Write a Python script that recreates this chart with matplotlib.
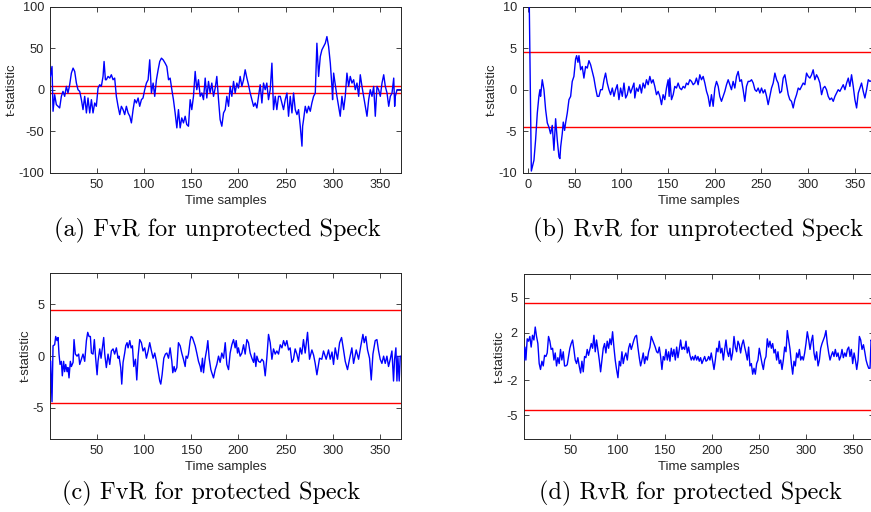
import matplotlib
matplotlib.use("Agg")
import matplotlib.pyplot as plt

plt.rcParams['axes.unicode_minus'] = False
plt.rcParams['font.family'] = ['Liberation Sans', 'DejaVu Sans']

# ---------------- data ----------------
a_pts = [(1,16),(2.7,28),(3.8,-26),(5.5,-6),(7.3,-18),(9,-20),(10.8,-22),(12.6,-8),(14.3,-2),(16.1,-8),
 (17.9,4),(19.6,-4),(21.4,6),(23.2,20),(25,26),(26.7,22),(28.5,8),(30.2,0),(32,-2),(33.8,-12),(35.5,-24),
 (37.3,-8),(39.1,-28),(40.8,-10),(42.6,-28),(44.4,-12),(46.1,-28),(47.9,-16),(49.6,-20),(51.4,2),(53.2,6),
 (54.9,4),(56.7,16),(57.8,34),(59.2,12),(60.2,12),(62,16),(63.8,14),(65.5,18),(67.3,12),(69,14),(70.8,-8),
 (72.6,-20),(74.4,-30),(76.1,-20),(77.9,-24),(79.6,-30),(81.4,-20),(83.2,-28),(85,-32),(86.7,-40),(88.5,-24),
 (90.2,-12),(92,-16),(93.8,-10),(95.5,-20),(97.3,-12),(99,-10),(100.8,0),(102.6,8),(104.4,12),(106.1,36),
 (107.9,-4),(109.7,8),(111.4,-8),(113.2,12),(115,24),(116.7,34),(118.5,38),(120.3,36),(122.4,32),(124.2,28),
 (126,12),(127.7,14),(129.5,0),(131.2,-12),(133,-28),(134.8,-46),(136.5,-24),(138.3,-46),(140,-34),(141.8,-40),
 (143.6,-32),(145.3,-42),(147.1,-44),(148.9,-12),(150.6,-24),(152.4,-8),(154.2,22),(155.9,0),(157.7,12),
 (159.5,-8),(161.2,-4),(163,-12),(164.8,14),(166.5,-10),(168.3,10),(170,-4),(171.8,8),(173.6,-8),(175.4,2),
 (177.1,16),(178.9,-12),(180.6,-36),(182.4,-44),(184.2,-28),(186,-24),(187.7,-8),(189.5,-20),(191.2,4),
 (193,-8),(194.8,10),(196.5,-4),(198.3,8),(200,2),(201.8,16),(203.6,4),(205.4,12),(207.1,24),(208.9,14),
 (210.6,6),(212.4,-4),(214.2,-12),(216,-20),(217.7,-16),(219.5,-22),(221.2,-8),(223,6),(224.8,-16),(226.5,8),
 (228.3,0),(230,8),(231.8,-12),(233.6,0),(235.4,32),(237.1,-24),(238.9,-8),(240.6,-24),(242.4,-8),(244.2,-8),
 (246,-16),(247.7,-24),(249.5,-12),(251.3,-4),(253,-32),(254.8,-8),(256.6,-28),(258.3,-4),(260.1,-24),
 (261.9,-30),(263.6,-24),(265.4,-44),(267.2,-68),(267.9,-44),(268.9,-36),(270.7,-20),(272.4,-28),(274.2,-20),
 (276,-26),(277.7,-16),(279.5,-8),(281.3,-4),(283,56),(284.8,16),(286.6,40),(288.3,48),(290.1,52),(291.9,56),
 (293.6,64),(295.4,52),(297.2,32),(298.9,4),(299.6,-12),(300.7,20),(302.4,6),(304.2,-8),(306,-20),(307.7,-32),
 (309.5,-8),(311.3,-24),(313,-8),(314.8,20),(316.6,4),(318.3,16),(320.1,8),(321.9,12),(323.6,0),(325.4,8),
 (327.2,-8),(328.9,18),(330.7,4),(332.5,-8),(334.2,-20),(336,-32),(337.8,-12),(339.5,0),(341.3,-8),(343.1,4),
 (344.8,-32),(346.6,4),(348.3,0),(350.1,-8),(351.9,8),(353.7,18),(355.4,4),(357.2,-4),(359,-20),(360.7,-8),
 (362.5,-4),(364.3,14),(365.3,-20),(366,-8),(367.8,0),(369.6,0),(371.3,0)]

b_pts = [(1,14),(3.6,-9.8),(6.4,-8.5),(8.2,-6),(10,-2.8),(11.7,-0.8),(12.8,0),(13.5,-0.8),(15.3,1.2),(17.1,0),
 (18.9,-2.4),(20.7,-4),(22.4,-4.5),(24.2,-5.3),(26,-4.3),(27.8,-7.3),(29.6,-3.5),(31.4,-6.1),(33.2,-8.1),
 (34.2,-8.3),(35,-6.9),(36.7,-5.3),(37.8,-3.9),(39.2,-4.9),(40.3,-4),(42.1,-2.8),(43.9,-1.2),(45.7,-0.8),
 (47.4,1),(49.2,1.6),(51,3.7),(52.1,4.1),(53.5,3.3),(54.6,4.1),(56.4,2.4),(58.1,2.8),(59.9,1.4),(61.7,2.8),
 (63.5,2.6),(65.3,3.5),(67.1,3),(68.9,2.2),(70.6,1.4),(72.4,0.2),(74.2,-0.8),(76,-0.8),(77.8,0),(79.6,0),
 (81.4,1.2),(83.1,2),(84.9,0.8),(86.7,0),(88.5,-0.6),(90.3,0.2),(92.1,-0.8),(93.8,0),(95.6,0.6),(97.4,-1.2),
 (99.2,0.2),(101,-0.8),(102.8,0.8),(104.6,-1),(106.3,-0.6),(108.1,0.4),(109.9,-0.4),(111.7,0.2),(113.5,0.8),
 (114.4,-1.0),(116.2,0.2),(118,-0.2),(119.8,0.6),(121.5,-0.4),(123.3,0.8),(125.1,0.2),(126.9,1.2),(128.7,0.6),
 (130.5,1.6),(132.3,0.8),(134,1.2),(135.8,0.4),(137.6,-0.6),(139.4,-0.2),(141.2,-0.8),(143,-1.8),(144.7,-0.6),
 (146.5,-1.2),(148.3,0.2),(150.1,1.2),(151.2,-0.8),(151.9,1.4),(153.7,-1.2),(155.5,-0.6),(157.2,0.4),(159,0.2),
 (160.8,0.8),(162.6,0.2),(164.4,0),(166.2,0.4),(168,0.2),(169.7,0.8),(171.5,0.6),(173.3,1.2),(175.1,1),
 (176.9,0.6),(178.7,0.8),(180.4,1.4),(182.2,0.6),(184,1.8),(185.8,1.2),(187.6,1.6),(189.4,0.8),(191.2,-0.2),
 (192.9,-0.8),(194.7,-2),(196.5,-0.6),(198.3,-2),(200.1,0.2),(201.9,1),(203.7,0.4),(205.4,-0.8),(207.2,-1.4),
 (209,-0.8),(210.8,-0.2),(212.6,0.6),(214.4,1.2),(216.1,0.6),(217.9,0),(219.7,1),(221.5,0.2),(223.3,1.6),
 (225.1,2.2),(226.9,1),(228.6,1.2),(230.4,0),(232.2,-1.4),(234,0.4),(235.8,1),(237.6,1),(239.4,1.2),(241.2,0.8),
 (243,0),(244.7,-0.2),(246.5,0.2),(248.3,-0.4),(250.1,0.2),(251.9,-0.4),(253.7,0),(255.5,-0.8),(257.2,-1.8),
 (259,-0.8),(260.8,0.2),(262.6,0.8),(264.4,2),(266.2,1.2),(267.9,0.8),(269.7,-0.4),(271.5,-0.2),(273.3,1.4),
 (275.1,1.8),(276.9,0.6),(278.7,-0.6),(280.4,-1.2),(282.2,-1.4),(284,-2.2),(285.8,-1.2),(287.6,-0.6),
 (289.4,0.2),(291.2,0),(292.9,0.4),(294.7,0.8),(296.5,0.6),(298.3,2),(300.1,1.6),(301.9,1.4),(303.7,1.8),
 (305.4,2.4),(307.2,1.2),(309,1.8),(310.8,1.4),(312.6,0.8),(314.4,-0.6),(316.2,0.2),(317.9,0.4),(319.7,0),
 (321.5,-0.8),(323.3,-1.2),(325.1,-1),(326.9,-1.4),(328.7,-0.8),(330.4,-0.4),(332.2,0),(334,-0.2),(335.8,0.2),
 (337.6,0.6),(339.4,0),(341.2,0.8),(343,1.4),(344.7,0.4),(346.5,1.8),(348.3,0.4),(350.1,-1.2),(351.9,-2.2),
 (353.7,-0.4),(355.5,0.2),(357.2,0.8),(359,-0.2),(360.8,-1),(362.6,0),(364.4,1.2),(366.2,1),(368,1.1),(370,0.8)]

c_pts = [(1.3,-0.5),(2.7,-4.4),(3.8,1),(5.5,1.1),(6.6,1.9),(8,1.5),(9.1,1.8),(10.1,0.2),(11.2,-0.8),(12.6,-0.5),
 (13.6,-1.9),(15,-0.5),(16.1,-1.5),(17.2,-0.8),(18.6,-1.5),(19.6,-1.1),(20.7,-2.1),(22.1,-0.5),(23.2,-1),
 (25,-0.6),(26,1.6),(27.4,0.2),(29.2,0),(30.9,0.2),(32,-0.8),(33.8,-0.3),(35.5,0.2),(37.3,-0.5),(39.1,1.5),
 (40.5,2.3),(41.9,1.9),(43.3,1.9),(44.4,0.3),(46.1,0.2),(47.5,1.6),(48.9,-0.2),(50.4,-1.8),(51.4,-0.5),
 (53.2,0.7),(54.6,-0.2),(56,0.8),(57.4,1.8),(58.5,0.2),(60.2,-1.1),(62,0.2),(63.8,-0.8),(65.5,0.5),(67.3,0.7),
 (69,0.2),(70.8,0.8),(72.6,-0.2),(73.6,0),(75.4,-1.1),(76.5,-2.7),(77.9,-0.6),(79.6,0.3),(80.7,1),(82.1,1.3),
 (83.2,0.8),(85,1.5),(86.4,0.8),(87.8,1),(89.2,-1),(91,-0.3),(92.4,-2.3),(93.8,0),(95.5,1.6),(97.3,1.3),
 (99,0.5),(100.8,0.8),(102.6,-0.2),(104.4,0.5),(106.1,1.3),(107.9,0.5),(109.7,-0.2),(111.4,0.3),(113.2,-0.5),
 (115,-1.5),(116.7,-2.4),(117.8,-2.7),(119.2,-1.8),(121,-0.2),(122.7,0.2),(124.2,0.3),(126,-0.2),(127.7,0.8),
 (129.5,-0.5),(130.5,-1.6),(131.9,-1),(133,-1.5),(134.8,-1.1),(136.5,1.3),(138.3,1),(140,0.3),(141.8,-0.3),
 (143.6,-1),(144.6,0),(146,-0.2),(147.1,0.2),(148.9,1.5),(149.9,1.9),(151.3,1.8),(152.4,1.5),(154.2,1),
 (155.9,0.3),(157.7,-0.5),(159.5,-1),(160.5,-1.5),(161.9,-0.2),(163,-1.6),(164.8,-0.2),(166.5,0.7),(167.6,1.5),
 (169,-0.2),(170.8,-1.3),(171.8,-1.6),(173.6,-2.1),(175.4,-1.3),(177.1,-0.8),(178.9,0),(180.6,-0.6),(182.4,0.3),
 (184.2,-0.2),(186,1.3),(187.7,-0.8),(189.5,-1.3),(191.2,0.3),(193,1.1),(194.8,1.6),(196.5,0.8),(197.6,1.5),
 (199,0.3),(200,0.8),(201.8,0),(203.6,0.3),(205.4,1.1),(207.1,0.2),(208.9,1.6),(210.6,1.3),(212.4,0.3),
 (214.2,-0.2),(216,-0.6),(217,0.3),(218.4,-1),(219.5,0),(221.2,-0.5),(223,-0.6),(224.8,-0.3),(226.5,-0.5),
 (228.3,-1.9),(230,-0.2),(231.8,2.1),(233.6,1.3),(235.4,-0.3),(237.1,0.7),(238.9,0.2),(240.6,0.5),(242.4,0.2),
 (244.2,1.1),(246,0.8),(247.7,1.5),(249.5,1),(251.2,1.5),(253,0.6),(254.7,0.8),(256.5,-0.6),(258.2,-0.3),
 (260,0.7),(261.8,0.2),(263.5,-0.5),(265.3,0.8),(267,0.2),(268.8,1.6),(270.6,0.3),(273.1,2.3),(275.2,-0.3),
 (277.7,0.6),(279.5,0.1),(281.2,-0.7),(283,-1.8),(285.8,-0.2),(288.2,-0.3),(290,0.5),(292.8,-0.3),(295.3,0.6),
 (297.1,-0.3),(299,0.4),(300.6,-0.8),(302.4,0.8),(304.8,-0.3),(307,1.3),(309.1,1.8),(311.2,0.6),(313,-0.5),
 (315.4,-1.3),(317.5,-0.3),(320,0.8),(321.8,-0.7),(324.6,0.6),(327.1,-0.3),(329.5,1),(331.7,2.1),(333.1,1.3),
 (334.8,1.9),(336.6,0.6),(338.7,-0.2),(340.5,-2.3),(342.3,0.2),(344.7,1.5),(346.5,1.6),(348.3,0.5),(350,-0.3),
 (351.8,-0.7),(353.6,0),(355.3,-0.7),(357.1,0),(358.8,-1),(360.6,-0.3),(362.4,0.5),(364.1,-2.4),(365.2,-0.3),
 (366.6,0.8),(367.7,-2.4),(368.7,0),(370.1,-2.4),(371.2,0)]

d_pts = [(0.9,-0.3),(2,0.8),(3,-0.3),(4.4,1.5),(5.8,1.3),(7.2,1.7),(8.6,0.8),(10,1.8),(11.5,1.4),(12.9,2.5),
 (14.3,1.7),(15.7,1.1),(17.1,-0.6),(18.5,-1.1),(20,-0.4),(21.4,-0.8),(22.8,0.1),(24.2,0),(25.6,0.3),(27,1.7),
 (28.4,1.3),(29.8,0.6),(31.3,0.7),(32.7,-0.3),(34.1,0.3),(35.5,-0.8),(36.9,-0.1),(38.3,-0.6),(39.7,0.6),
 (41.1,-0.3),(42.6,0.4),(44,-0.8),(45.4,-0.8),(46.8,-0.7),(48.2,0),(49.6,0.7),(51,1.1),(52.5,1.4),(53.9,0.6),
 (55.3,-0.3),(56.7,-0.6),(58.1,-0.1),(59.5,-0.8),(61,-1.4),(62.4,-0.4),(63.8,-1.3),(65.2,0),(66.6,-0.1),
 (68,0.6),(69.4,0.1),(70.9,0.6),(72.3,1.1),(73.7,0.7),(75.1,1.8),(76.5,0.4),(77.9,1.4),(79.3,0.6),(80.8,-0.3),
 (82.2,-1.3),(83.6,-0.3),(85,0.7),(86.4,1.1),(87.8,0.3),(89.2,1.3),(90.7,0.7),(92.1,1.5),(93.5,1),(94.9,2.1),
 (96.3,0.8),(97.7,-0.3),(99.1,-1.1),(100.6,-1.8),(102,-0.4),(103.4,-0.8),(104.8,0.4),(106.2,-0.6),(107.6,0),
 (109,0.3),(110.5,-0.3),(111.9,0.7),(113.3,1.1),(114.7,0.6),(116.1,1),(117.5,1.4),(118.9,1.7),(120.3,1.8),
 (121.7,0.8),(123.2,-0.1),(124.6,-0.8),(126,-0.3),(127.4,0.3),(128.8,-0.6),(130.2,0),(131.7,-0.3),(133.1,0.4),
 (134.5,0.8),(135.9,1.7),(137.3,1.4),(138.7,1.1),(140.1,0.8),(141.6,0.4),(143,0.3),(144.4,0.8),(145.8,0),
 (147.2,-1.1),(148.6,0),(150,-0.3),(151.5,0.6),(152.9,-0.3),(154.3,0.4),(155.7,-0.4),(157.1,0.7),(158.5,0),
 (159.9,0.6),(161.4,-0.3),(162.8,0.8),(164.2,-0.1),(165.6,0.6),(167,1.4),(168.4,0.6),(169.8,0.8),(171.3,0.6),
 (172.7,1.3),(174.1,0.3),(175.5,0.8),(176.9,0.1),(178.3,-0.3),(179.7,0),(181.1,-0.3),(182.6,0.1),(184,-0.3),
 (185.4,0),(186.8,-0.4),(188.2,-0.1),(189.6,-0.6),(191.1,-0.3),(192.5,0),(193.9,-0.4),(195.3,-0.3),(196.7,0),
 (198.1,-0.3),(199.5,0.3),(201,-0.4),(202.4,-1.1),(203.8,-0.3),(205.2,0.7),(206.6,0.4),(208,1.3),(209.4,0.3),
 (210.8,0.7),(212.3,-0.3),(213.7,0.6),(215.1,1.4),(216.5,0.4),(217.9,0),(219.3,0.7),(220.7,-0.3),(222.1,0.3),
 (223.6,1.7),(225,0.8),(226.4,0.4),(227.8,1.3),(229.2,1),(230.6,0.3),(232,1),(233.5,1.4),(234.9,0.8),
 (236.3,0.3),(237.7,-0.3),(239.1,0.8),(240.5,-0.8),(242,-0.6),(243.4,-1.5),(244.8,-1),(246.2,-1.5),(247.6,-0.6),
 (249,-0.3),(250.4,0.7),(251.9,0),(253.3,-0.6),(254.7,-1.1),(256.1,-0.3),(257.5,0),(258.9,1.5),(260.3,0.8),
 (261.7,1.3),(263.2,0.7),(264.6,1.1),(266,0.3),(267.4,0.6),(268.8,-0.3),(270.2,0.4),(271.6,-0.6),(273.1,-0.3),
 (274.5,-1.1),(275.9,-0.3),(277.3,0.8),(278.7,0.4),(280.1,2.2),(281.5,1.4),(283,0.6),(284.4,-0.6),(285.8,-1.5),
 (287.2,-0.4),(288.6,-0.8),(290,0.3),(291.4,-0.1),(292.9,0.6),(294.3,-0.3),(295.7,0),(297.1,-0.3),(298.5,0.3),
 (299.9,1.1),(301.3,2.1),(302.8,1.4),(304.2,0.6),(305.6,1.3),(307,1.8),(308.4,0.3),(309.8,-0.3),(311.2,0.4),
 (312.7,-0.8),(314.1,-0.3),(315.5,0.7),(316.9,1.1),(318.3,1.4),(319.7,1.7),(321.1,2.2),(322.5,1.1),(324,0.3),
 (325.4,-0.3),(326.8,0.1),(328.2,0.4),(329.6,0),(331,0.6),(332.5,0),(333.9,0.3),(335.3,-0.3),(336.7,0),
 (338.1,0.6),(339.5,-0.1),(341,0.3),(342.4,0),(343.8,0.6),(345.2,0.8),(346.6,0),(348,0.6),(349.4,-0.6),
 (350.9,0.3),(352.3,-0.3),(353.7,-1.1),(355.1,-0.3),(356.5,1.7),(357.9,1.4),(359.3,0.6),(360.8,1),(362.2,0.4),
 (363.6,-0.3),(365,-0.7),(366.4,-1),(367.8,-1),(368.9,1.4),(371,1.0)]

threshold = 4.5
captions = ["(a) FvR for unprotected Speck", "(b) RvR for unprotected Speck",
            "(c) FvR for protected Speck", "(d) RvR for protected Speck"]
xlims = [(1, 372), (-5, 370), (1, 372), (1, 372)]
ylims = [(-100, 100), (-10, 10), (-8, 8), (-7, 7)]
xticks = [[50, 100, 150, 200, 250, 300, 350], [0, 50, 100, 150, 200, 250, 300, 350],
          [50, 100, 150, 200, 250, 300, 350], [50, 100, 150, 200, 250, 300, 350]]
yticks = [[-100, -50, 0, 50, 100], [-10, -5, 0, 5, 10], [-5, 0, 5], [-5, -2, 2, 5]]
series = [a_pts, b_pts, c_pts, d_pts]

# ---------------- figure ----------------
W, H = 871, 512
fig = plt.figure(figsize=(W / 100, H / 100), dpi=100)

# axes rectangles in pixels: left, top, right, bottom
rects = [(50.4, 6.7, 401, 172.7), (523.3, 6.7, 873.5, 172.7),
         (50.4, 273.3, 401, 439), (524, 274, 874, 439)]
cap_pos = [(217, 230), (698, 230), (211, 493), (690, 493)]

gray = '#262626'
for i in range(4):
    l, t, r, b = rects[i]
    ax = fig.add_axes([l / W, 1 - b / H, (r - l) / W, (b - t) / H])
    xs = [p[0] for p in series[i]]
    ys = [p[1] for p in series[i]]
    ax.plot(xs, ys, color='#0000ff', lw=1.0, zorder=3)
    ax.axhline(threshold, color='#ff0000', lw=1.0, zorder=2)
    ax.axhline(-threshold, color='#ff0000', lw=1.0, zorder=2)
    ax.set_xlim(*xlims[i])
    ax.set_ylim(*ylims[i])
    ax.set_xticks(xticks[i])
    ax.set_yticks(yticks[i])
    ax.tick_params(direction='in', length=3.5, width=0.6, top=True, right=True,
                   labelsize=9.2, colors=gray, pad=4.5)
    for sp in ax.spines.values():
        sp.set_color(gray)
        sp.set_linewidth(0.7)
    ax.set_xlabel('Time samples', fontsize=9.5, color=gray, labelpad=3)
    ax.set_ylabel('t-statistic', fontsize=9.5, color=gray, labelpad=0.5)
    cx, cy = cap_pos[i]
    fig.text(cx / W, 1 - cy / H, captions[i], fontfamily='cmr10', fontsize=17.5,
             ha='center', va='center', color='black')

fig.savefig('out.png', dpi=100)
